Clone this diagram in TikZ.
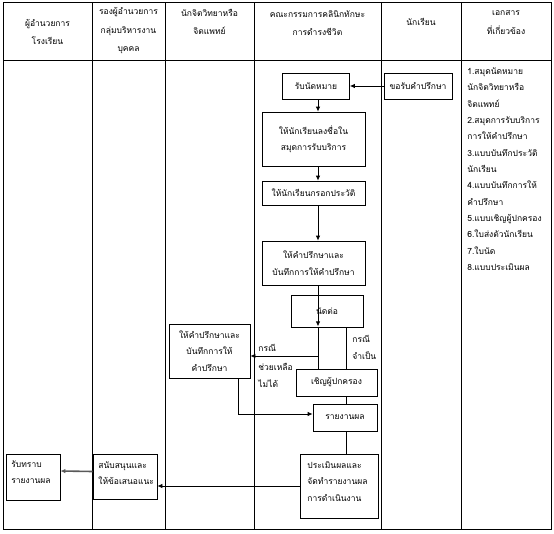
\documentclass[tikz,border=0pt]{standalone}
\usepackage{fontspec}
\newfontfamily\thai[Script=Thai]{Loma}
\usetikzlibrary{arrows.meta,calc}
\begin{document}
\begin{tikzpicture}[x=1pt,y=-1pt,line width=0.8pt,
  every node/.style={font=\thai\fontsize{8.5}{16.5}\selectfont},
  box/.style={draw,inner sep=0pt,align=center},
  hd/.style={align=center,inner sep=0pt,font=\thai\fontsize{8.5}{18.5}\selectfont},
  lbl/.style={align=left,inner sep=0pt,anchor=base west},
  doc/.style={inner sep=0pt,anchor=base west},
  arr/.style={-{Latex[length=5pt,width=4.5pt]}},
  garr/.style={-{Latex[length=5pt,width=4.5pt]},draw=gray!70!black,line width=1.6pt}]
\useasboundingbox (0,0) rectangle (554,533);
% table
\draw (3,2) rectangle (551,529);
\draw (3,60) -- (551,60);
\foreach \cx in {92,165,254,381,461} \draw (\cx,2) -- (\cx,529);
% headers
\node[hd] (h1) at (47.5,32) {ผู้อำนวยการ\\โรงเรียน};
\node[hd] (h2) at (128.5,31) {รองผู้อำนวยการ\\กลุ่มบริหารงาน\\บุคคล};
\node[hd] (h3) at (209.5,22) {นักจิตวิทยาหรือ\\จิตแพทย์};
\node[hd] (h4) at (317.5,23) {คณะกรรมการคลินิกทักษะ\\การดำรงชีวิต};
\node[hd] (h5) at (421,22) {นักเรียน};
\node[hd] (h6) at (506,22.5) {เอกสาร\\ที่เกี่ยวข้อง};
% boxes
\node[box,minimum width=67pt,minimum height=26pt] (appt) at (316,86) {รับนัดหมาย};
\node[box,minimum width=68pt,minimum height=26pt] (req) at (418,86) {ขอรับคำปรึกษา};
\node[box,minimum width=103pt,minimum height=54pt] (sign) at (313.5,139) {ให้นักเรียนลงชื่อใน\\สมุดการรับบริการ};
\node[box,minimum width=103pt,minimum height=24pt] (hist) at (313.5,193) {ให้นักเรียนกรอกประวัติ};
\node[box,minimum width=103pt,minimum height=44pt] (couns) at (313.5,263) {ให้คำปรึกษาและ\\บันทึกการให้คำปรึกษา};
\node[box,minimum width=72pt,minimum height=32pt] (next) at (327,311) {นัดต่อ};
\node[box,minimum width=81pt,minimum height=27pt] (inv) at (336.5,382.5) {เชิญผู้ปกครอง};
\node[box,minimum width=64pt,minimum height=27pt] (rep) at (345,417.5) {รายงานผล};
\node[box,minimum width=81pt,minimum height=54pt] (side) at (209.5,351) {ให้คำปรึกษาและ\\บันทึกการให้\\คำปรึกษา};
\node[draw,minimum width=78pt,minimum height=64pt,inner sep=0pt] (eval) at (339,486) {};
\node[lbl,anchor=north west] (evalt) at (307,461) {ประเมินผลและ\\จัดทำรายงานผล\\การดำเนินงาน};
\node[draw,minimum width=64pt,minimum height=45pt,inner sep=0pt] (sup) at (125,476.5) {};
\node[lbl,anchor=north west] (supt) at (98,461) {สนับสนุนและ\\ให้ข้อเสนอแนะ};
\node[draw,minimum width=54pt,minimum height=46pt,inner sep=0pt] (ack) at (33,477) {};
\node[lbl,anchor=north west] (ackt) at (11,460) {รับทราบ\\รายงานผล};
% spine coordinates
\coordinate (sp) at (318,0);
\coordinate (sq) at (346,0);
\coordinate (br) at (318,356);
\coordinate (sd) at (238,414);
% connectors
\draw[arr] (req.west) -- (appt.east);
\draw[arr] (sp |- appt.south) -- (sp |- sign.north);
\draw[arr] (sp |- sign.south) -- (sp |- hist.north);
\draw[arr] (sp |- hist.south) -- (sp |- couns.north);
\draw[arr] (sp |- couns.south) -- ($(sp |- next.south)+(0,-1)$);
\draw (sp |- next.south) -- (sp |- inv.north);
\draw[arr] (br) -- (br -| side.east);
\draw (sq |- next.south) -- (sq |- inv.north);
\draw (sq |- inv.south) -- (sq |- rep.north);
\draw (sq |- rep.south) -- (sq |- eval.north);
\draw[arr] (sd |- side.south) -- (sd) -- (rep.west |- sd);
\draw[arr] (eval.west) -- (eval.west -| sup.east);
\draw[garr] ($(sup.west)+(0,-5)$) -- ($(ack.east)+(0,-6)$);
% labels
\node[lbl] (l1) at (258,351.5) {กรณี};
\node[lbl] (l2) at (258,370.5) {ช่วยเหลือ};
\node[lbl] (l3) at (258,387) {ไม่ได้};
\node[lbl] (l4) at (352,342.5) {กรณี};
\node[lbl] (l5) at (352,359.5) {จำเป็น};
% documents
\foreach \t [count=\i] in {1.สมุดนัดหมาย,นักจิตวิทยาหรือ,จิตแพทย์,2.สมุดการรับบริการ,การให้คำปรึกษา,3.แบบบันทึกประวัติ,นักเรียน,4.แบบบันทึกการให้,คำปรึกษา,5.แบบเชิญผู้ปกครอง,6.ใบส่งตัวนักเรียน,7.ใบนัด,8.แบบประเมินผล}
  \node[doc] (d\i) at (467,{74.5+(\i-1)*16.33}) {\t};
\end{tikzpicture}
\end{document}
